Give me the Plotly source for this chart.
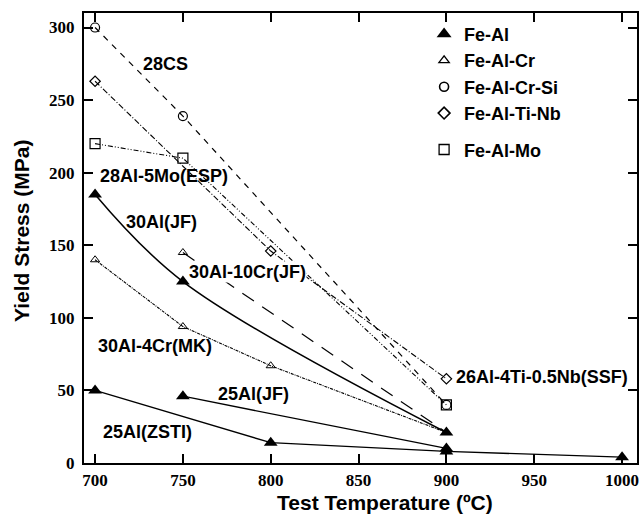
import plotly.graph_objects as go

# ---- data (Test temperature in °C, yield stress in MPa) ----
t_30Al_JF = [700, 750, 900]
s_30Al_JF = [185, 125, 21]
t_25Al_JF = [750, 900]
s_25Al_JF = [46, 10]
t_25Al_ZSTI = [700, 800, 900, 1000]
s_25Al_ZSTI = [50, 14, 8, 4]

t_30Al10Cr_JF = [750, 900]
s_30Al10Cr_JF = [145, 21]
t_30Al4Cr_MK = [700, 750, 800, 900]
s_30Al4Cr_MK = [140, 94, 67, 21]

t_28CS = [700, 750, 900]
s_28CS = [300, 239, 40]

t_26Al4Ti = [700, 800, 900]
s_26Al4Ti = [263, 146, 58]

t_28Al5Mo = [700, 750, 900]
s_28Al5Mo = [220, 210, 40]

x_ticks = [700, 750, 800, 850, 900, 950, 1000]
y_ticks = [0, 50, 100, 150, 200, 250, 300]

legend_names = ["Fe-Al", "Fe-Al-Cr", "Fe-Al-Cr-Si", "Fe-Al-Ti-Nb", "Fe-Al-Mo"]

# ---- styles ----
K = "black"
FILLED_TRI = dict(symbol="triangle-up", size=12, color=K)
OPEN_TRI = dict(symbol="triangle-up-open", size=8, color=K, line=dict(width=1, color=K))
OPEN_CIR = dict(symbol="circle-open", size=9, color=K, line=dict(width=1.2, color=K))
OPEN_DIA = dict(symbol="diamond-open", size=8, color=K, line=dict(width=1.2, color=K))
OPEN_SQ = dict(symbol="square-open", size=10, color=K, line=dict(width=1.2, color=K))

fig = go.Figure()

def add_line(x, y, marker, dash, width=1.3, shape="linear"):
    fig.add_trace(go.Scatter(
        x=x, y=y, mode="lines+markers", marker=marker,
        line=dict(color=K, width=width, dash=dash, shape=shape),
        showlegend=False, hoverinfo="skip", cliponaxis=False))

add_line(t_28CS, s_28CS, OPEN_CIR, "6px,6px", 1.2)
add_line(t_28Al5Mo, s_28Al5Mo, OPEN_SQ, "5px,2px,1px,2px,1px,2px", 1.1)
add_line(t_26Al4Ti, s_26Al4Ti, OPEN_DIA, "6px,2px,1px,2px", 1.1)
add_line(t_30Al10Cr_JF, s_30Al10Cr_JF, OPEN_TRI, "14px,10px", 1.2)
add_line(t_30Al4Cr_MK, s_30Al4Cr_MK, OPEN_TRI, "3px,1px,1px,1px", 1.1)
add_line(t_30Al_JF, s_30Al_JF, FILLED_TRI, "solid", 1.5, "spline")
add_line(t_25Al_JF, s_25Al_JF, FILLED_TRI, "solid", 1.3)
add_line(t_25Al_ZSTI, s_25Al_ZSTI, FILLED_TRI, "solid", 1.3)

# legend entries
leg_markers = [
    dict(symbol="triangle-up", size=13, color=K),
    dict(symbol="triangle-up-open", size=9, color=K, line=dict(width=1.3, color=K)),
    dict(symbol="circle-open", size=9, color=K, line=dict(width=1.6, color=K)),
    dict(symbol="diamond-open", size=9, color=K, line=dict(width=1.6, color=K)),
    dict(symbol="square-open", size=10, color=K, line=dict(width=1.3, color=K)),
]
for i, (name, m) in enumerate(zip(legend_names, leg_markers)):
    fig.add_trace(go.Scatter(
        x=[None], y=[None], mode="markers", marker=m, name=name,
        legendgroup="b" if i == 4 else "a", showlegend=True))

ann_font = dict(family="Liberation Sans", size=18, color=K, weight="bold")
labels = [
    ("28CS", 726.8, 274.6, None),
    ("28Al-5Mo(ESP)", 702.3, 198, None),
    ("30Al(JF)", 717.1, 166, None),
    ("30Al-10Cr(JF)", 752.9, 131.8, "white"),
    ("30Al-4Cr(MK)", 701.1, 80.3, None),
    ("25Al(JF)", 769.4, 47.3, None),
    ("25Al(ZSTI)", 704, 21.2, None),
    ("26Al-4Ti-0.5Nb(SSF)", 904.9, 59, None),
]
for text, x, y, bg in labels:
    fig.add_annotation(x=x, y=y, text=text, showarrow=False, xanchor="left",
                       yanchor="middle", font=ann_font, borderpad=0,
                       bgcolor=bg if bg else "rgba(0,0,0,0)")

# axis titles as paper annotations
PL, PR, PT, PB = 84, 637, 13, 463
PW, PH = PR - PL, PB - PT
fig.add_annotation(xref="paper", yref="paper",
                   x=(385 - PL) / PW, y=(PB - 515) / PH,
                   text="Test Temperature (ºC)", showarrow=False,
                   xanchor="center", yanchor="bottom", borderpad=0,
                   font=dict(family="Liberation Sans", size=21, color=K, weight="bold"))
fig.add_annotation(xref="paper", yref="paper",
                   x=(21 - PL) / PW, y=(PB - 231) / PH,
                   text="Yield Stress (MPa)", showarrow=False, textangle=-90,
                   xanchor="center", yanchor="middle",
                   font=dict(family="Liberation Sans", size=21, color=K, weight="bold"))

tick_font = dict(family="Liberation Serif", size=17, color=K, weight="bold")

fig.update_xaxes(
    range=[693.7, 1008.5], tickvals=x_ticks, ticks="inside", ticklen=9,
    tickwidth=1.5, tickcolor=K, mirror="ticks", showline=True, linecolor=K,
    linewidth=2, showgrid=False, zeroline=False, tickfont=tick_font,
    automargin=False, ticklabelstandoff=1, ticklabeloverflow="allow")
fig.update_yaxes(
    range=[0, 310], tickvals=y_ticks, ticks="inside", ticklen=9,
    tickwidth=1.5, tickcolor=K, mirror="ticks", showline=True, linecolor=K,
    linewidth=2, showgrid=False, zeroline=False, tickfont=tick_font,
    automargin=False, ticklabelstandoff=4, ticklabeloverflow="allow")

fig.update_layout(
    width=640, height=515,
    margin=dict(l=PL, r=640 - PR, t=PT, b=515 - PB, autoexpand=False),
    paper_bgcolor="white", plot_bgcolor="white",
    legend=dict(x=0.615, y=0.994, xanchor="left", yanchor="top",
                font=dict(family="Liberation Sans", size=18, color=K, weight="bold"),
                bgcolor="rgba(0,0,0,0)", traceorder="grouped",
                tracegroupgap=10, itemsizing="trace"),
)

fig.write_html("out.html", config={"displayModeBar": False},
               post_script="document.body.style.margin='0';document.body.style.overflow='hidden';")
